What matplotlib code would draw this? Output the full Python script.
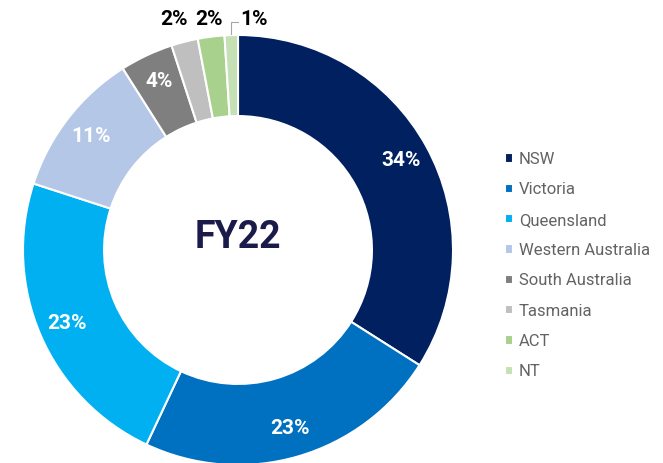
import matplotlib.pyplot as plt
import numpy as np

states = ['NSW', 'Victoria', 'Queensland', 'Western Australia',
          'South Australia', 'Tasmania', 'ACT', 'NT']
shares = [34, 23, 23, 11, 4, 2, 2, 1]
labels = ['34%', '23%', '23%', '11%', '4%', '2%', '2%', '1%']
colors = ['#002060', '#0070C0', '#00B0F0', '#B4C7E7',
          '#7F7F7F', '#BFBFBF', '#A9D18E', '#C5E0B4']

plt.rcParams['font.family'] = ['Roboto', 'DejaVu Sans']

fig = plt.figure(figsize=(6.63, 4.63), dpi=100)
# centre at (238, 250) px, radius 215 px
ax = fig.add_axes([(238 - 215) / 663, (463 - 465) / 463, 430 / 663, 430 / 463])

wedges, _ = ax.pie(shares, colors=colors, startangle=90, counterclock=False,
                   radius=1.0, wedgeprops=dict(width=0.377, edgecolor='white', linewidth=1.5))
ax.set_xlim(-1, 1)
ax.set_ylim(-1, 1)
ax.set_aspect('equal')
ax.axis('off')

# percentage labels inside the ring
total = sum(shares)
cum = 0
for i, (s, lab) in enumerate(zip(shares, labels)):
    mid = 90 - 360 * (cum + s / 2) / total
    cum += s
    a = np.deg2rad(mid)
    if i < 5:
        r = 0.865
        ax.text(r * np.cos(a), r * np.sin(a), lab, ha='center', va='center',
                color='white', fontsize=15, fontweight='bold')

# small slices: labels above the ring
ax.text(-0.298, 1.07, labels[5], ha='center', va='center', color='black',
        fontsize=15, fontweight='bold')
ax.text(-0.135, 1.07, labels[6], ha='center', va='center', color='black',
        fontsize=15, fontweight='bold')
a_nt = np.deg2rad(90 - 360 * (sum(shares[:7]) + shares[7] / 2) / total)
x0, y0 = np.cos(a_nt), np.sin(a_nt)
ax.plot([x0, x0, x0 + 0.03], [y0 + 0.005, 1.06, 1.06], color='#A6A6A6', lw=0.8,
        clip_on=False)
ax.text(0.074, 1.07, labels[7], ha='center', va='center', color='black',
        fontsize=15, fontweight='bold')

ax.text(0, 0.06, 'FY22', ha='center', va='center', color='#1B1B4B',
        fontsize=27, fontweight='bold')

leg = fig.legend(wedges, states, loc='upper left', bbox_to_anchor=(490 / 663, 1 - 137 / 463),
                 frameon=False, fontsize=12, handlelength=0.48, handleheight=0.48,
                 handletextpad=0.35, labelspacing=0.92, labelcolor='#636363')

fig.savefig('out.png', dpi=100)
